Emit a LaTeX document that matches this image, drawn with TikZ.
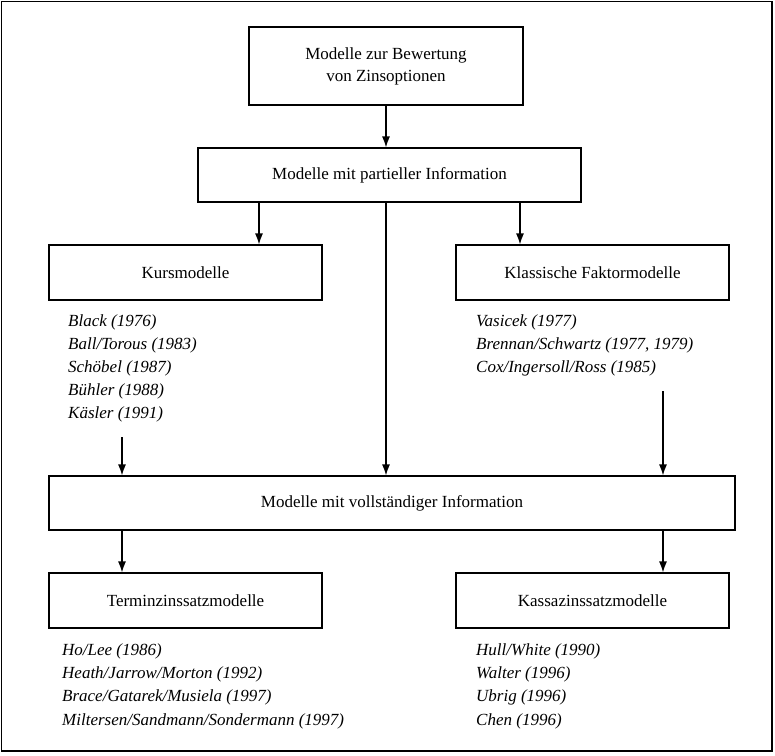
\documentclass[tikz,border=0pt]{standalone}
\usepackage{fontspec}
\setmainfont{Liberation Serif}
\usetikzlibrary{arrows.meta}
\begin{document}
\begin{tikzpicture}[x=1pt,y=-1pt,
  box/.style={draw,line width=1.2pt,inner sep=0pt,align=center,font=\fontsize{17}{22}\selectfont},
  lst/.style={anchor=north west,inner sep=0pt,align=left,font=\fontsize{17}{23.2}\selectfont\itshape},
  arr/.style={line width=1.2pt,-{Latex[length=11pt,width=8pt]}}]
\useasboundingbox (0,0) rectangle (775,755);
\draw[line width=1.5pt] (1.5,1.5) rectangle (772,751);
\node[box,minimum width=274pt,minimum height=78pt] (top) at (386,66) {Modelle zur Bewertung\\von Zinsoptionen};
\node[box,minimum width=383pt,minimum height=54pt] (part) at (389.5,175) {Modelle mit partieller Information};
\node[box,minimum width=273pt,minimum height=55pt] (kurs) at (185.5,272.5) {Kursmodelle};
\node[box,minimum width=273pt,minimum height=55pt] (klass) at (592.5,272.5) {Klassische Faktormodelle};
\node[box,minimum width=686pt,minimum height=54pt] (voll) at (392,503) {Modelle mit vollständiger Information};
\node[box,minimum width=273pt,minimum height=55pt] (term) at (185.5,600.5) {Terminzinssatzmodelle};
\node[box,minimum width=273pt,minimum height=55pt] (kassa) at (592.5,600.5) {Kassazinssatzmodelle};
\node[lst] (kl) at (68,314) {Black (1976)\\Ball/Torous (1983)\\Schöbel (1987)\\Bühler (1988)\\Käsler (1991)};
\node[lst] (fl) at (476,314) {Vasicek (1977)\\Brennan/Schwartz (1977, 1979)\\Cox/Ingersoll/Ross (1985)};
\node[lst] (tl) at (62,643.5) {Ho/Lee (1986)\\Heath/Jarrow/Morton (1992)\\Brace/Gatarek/Musiela (1997)\\Miltersen/Sandmann/Sondermann (1997)};
\node[lst] (sl) at (476,643.5) {Hull/White (1990)\\Walter (1996)\\Ubrig (1996)\\Chen (1996)};
\coordinate (xa) at (259,0);
\coordinate (xb) at (520,0);
\coordinate (k1) at (122,437);
\coordinate (f1) at (663,391);
\draw[arr] (top.south) -- (top.south |- part.north);
\draw[arr] (part.south -| xa) -- (kurs.north -| xa);
\draw[arr] (part.south -| xb) -- (klass.north -| xb);
\draw[arr] (part.south -| top.south) -- (voll.north -| top.south);
\draw[arr] (k1) -- (k1 |- voll.north);
\draw[arr] (f1) -- (f1 |- voll.north);
\draw[arr] (voll.south -| k1) -- (term.north -| k1);
\draw[arr] (voll.south -| f1) -- (kassa.north -| f1);
\end{tikzpicture}
\end{document}
